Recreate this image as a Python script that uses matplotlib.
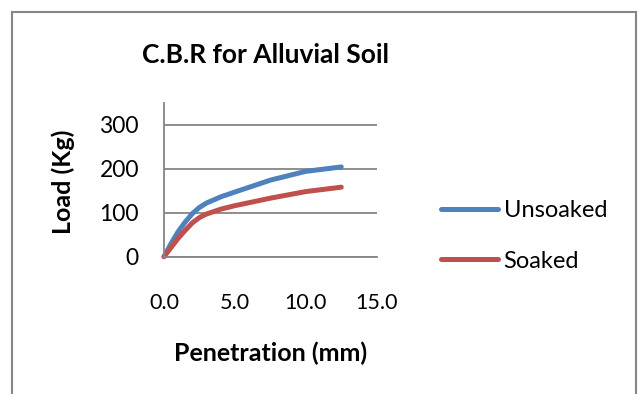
import matplotlib
matplotlib.use("Agg")
import matplotlib.pyplot as plt
from matplotlib.patches import Rectangle

penetration = [0, 0.5, 1.0, 1.5, 2.0, 2.5, 3.0, 4.0, 5.0, 7.5, 10.0, 12.5]
unsoaked = [0, 30, 57, 79, 98, 112, 122, 136, 147, 174, 194, 204]
soaked = [0, 21, 42, 60, 77, 89, 97, 108, 116, 133, 148, 158]
x_ticks = [0, 5, 10, 15]
y_ticks = [0, 100, 200, 300]

plt.rcParams['font.family'] = ['Lato', 'DejaVu Sans']
GRAY = '#868686'

fig = plt.figure(figsize=(6.38, 3.94), dpi=100)
fig.patches.append(Rectangle((12/638, -0.1), (636-12)/638, 1.1 - 12/394,
                             transform=fig.transFigure, fill=False,
                             edgecolor=GRAY, linewidth=1.5, clip_on=False))

ax = fig.add_axes([164/638, 1-256.7/394, (376.7-164)/638, (256.7-102.7)/394])
ax.plot(penetration, unsoaked, color='#4F81BD', lw=3.6, solid_capstyle='round',
        solid_joinstyle='round', label='Unsoaked', clip_on=False)
ax.plot(penetration, soaked, color='#C0504D', lw=3.6, solid_capstyle='round',
        solid_joinstyle='round', label='Soaked', clip_on=False)
ax.set_xlim(0, 15)
ax.set_ylim(0, 350)
ax.set_xticks(x_ticks)
ax.set_xticklabels([f"{v:.1f}" for v in x_ticks])
ax.set_yticks(y_ticks)
ax.set_yticklabels([str(v) for v in y_ticks])
for s in ['top', 'right']:
    ax.spines[s].set_visible(False)
for s in ['left', 'bottom']:
    ax.spines[s].set_color(GRAY)
    ax.spines[s].set_linewidth(1.3)
ax.grid(axis='y', color=GRAY, lw=1.3)
ax.set_axisbelow(True)
ax.tick_params(axis='both', length=0, labelsize=15.5, colors='black')
ax.tick_params(axis='y', labelsize=16.5)
ax.tick_params(axis='x', pad=26)
ax.tick_params(axis='y', pad=18)

fig.text(265/638, 1-55/394, 'C.B.R for Alluvial Soil', ha='center', va='center',
         fontsize=19, fontweight='bold')
fig.text(271/638, 1-353/394, 'Penetration (mm)', ha='center', va='center',
         fontsize=18, fontweight='bold')
fig.text(63/638, 1-182/394, 'Load (Kg)', ha='center', va='center', rotation=90,
         fontsize=18, fontweight='bold')

fig.legend(loc='center left', bbox_to_anchor=(441/638, 1-236/394), frameon=False,
           fontsize=17, handlelength=2.4, handletextpad=0.25, labelspacing=1.25,
           borderpad=0, borderaxespad=0)

fig.savefig('out.png', dpi=100)
